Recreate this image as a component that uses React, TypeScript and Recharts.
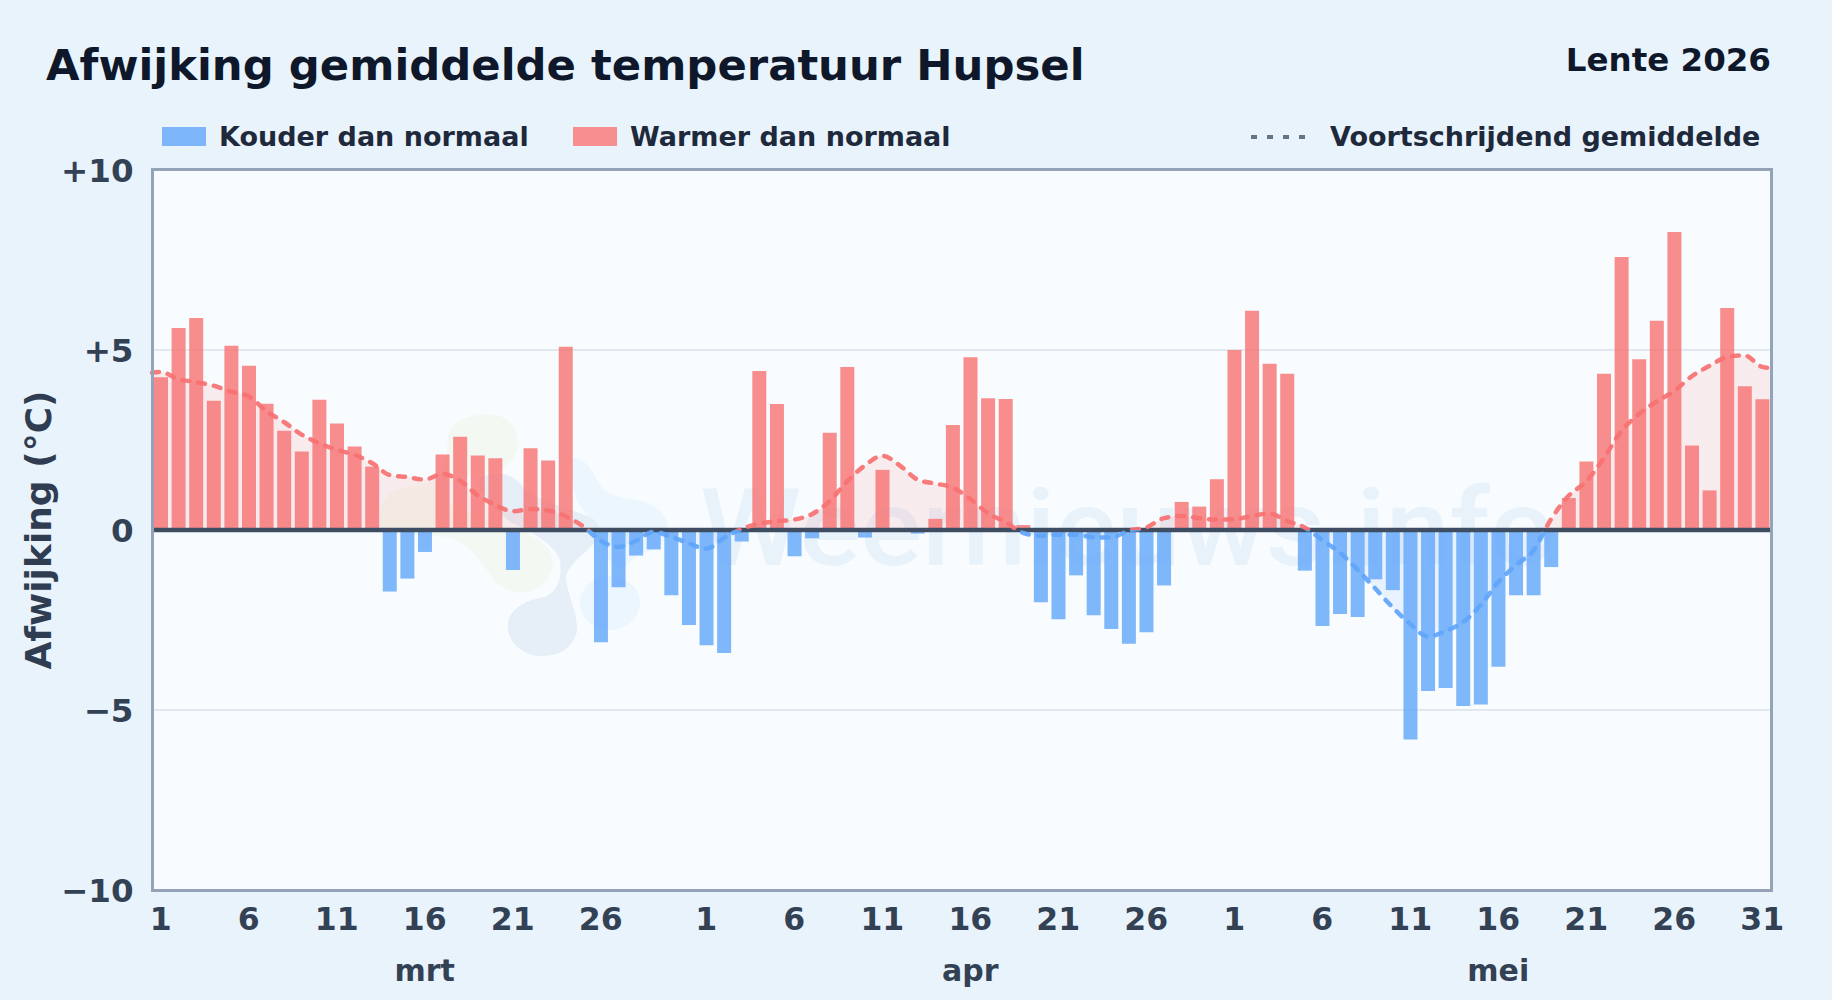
import {
  ComposedChart,
  Bar,
  Line,
  Area,
  XAxis,
  YAxis,
  CartesianGrid,
  ReferenceLine,
  Legend,
} from "recharts";

// dagelijkse afwijking, 1 maart t/m 31 mei
const deviations = [
  4.24, 5.61, 5.89, 3.59, 5.12, 4.56, 3.51, 2.76, 2.18, 3.62, 2.96, 2.32, 1.76, -1.71, -1.35, -0.61,
  2.1, 2.59, 2.07, 1.99, -1.11, 2.27, 1.93, 5.09, 0, -3.12, -1.59, -0.71, -0.54, -1.81, -2.64,
  -3.2, -3.42, -0.32, 4.42, 3.5, -0.73, -0.23, 2.7, 4.53, -0.21, 1.67, 0, -0.1, 0.31, 2.92, 4.8,
  3.66, 3.64, 0.14, -2.01, -2.48, -1.26, -2.37, -2.75, -3.16, -2.84, -1.54, 0.78, 0.65, 1.41,
  5.0, 6.09, 4.62, 4.34, -1.13, -2.67, -2.33, -2.42, -1.37, -1.67, -5.82, -4.47, -4.39, -4.89, -4.85, -3.8,
  -1.81, -1.81, -1.03, 0.89, 1.9, 4.34, 7.58, 4.74, 5.81, 8.28, 2.35, 1.1, 6.17, 3.99, 3.63,
];

// voortschrijdend gemiddelde
const movingAvg = [
  4.39, 4.19, 4.11, 4.01, 3.84, 3.71, 3.3, 3.0, 2.65, 2.41, 2.23, 2.09, 1.86, 1.53, 1.47, 1.4,
  1.56, 1.37, 0.97, 0.7, 0.52, 0.58, 0.54, 0.38, 0.1, -0.3, -0.47, -0.3, -0.05, -0.19, -0.37,
  -0.52, -0.22, 0.03, 0.18, 0.24, 0.29, 0.44, 0.8, 1.35, 1.79, 2.06, 1.79, 1.4, 1.29, 1.18, 0.86,
  0.47, 0.22, -0.08, -0.16, -0.13, -0.13, -0.2, -0.21, -0.02, 0.07, 0.33, 0.39, 0.33, 0.29,
  0.3, 0.39, 0.46, 0.25, 0.07, -0.28, -0.63, -1.1, -1.62, -2.15, -2.61, -2.96, -2.81, -2.56, -2.09, -1.45,
  -0.98, -0.57, 0.3, 0.95, 1.35, 2.0, 2.75, 3.22, 3.57, 3.86, 4.27, 4.56, 4.8, 4.85, 4.53,
];

const maAtLeftEdge = 4.37;
const maAtRightEdge = 4.5;

const dayTicks = [
  0.5, 5.5, 10.5, 15.5, 20.5, 25.5, 31.5, 36.5, 41.5, 46.5, 51.5, 56.5, 61.5, 66.5, 71.5, 76.5, 81.5, 86.5, 91.5,
];
const dayLabels = ["1", "6", "11", "16", "21", "26", "1", "6", "11", "16", "21", "26", "1", "6", "11", "16", "21", "26", "31"];
const monthTicks = [15.5, 46.5, 76.5];
const monthLabels = ["mrt", "apr", "mei"];
const yTicks = [-10, -5, 0, 5, 10];

const barRows = deviations.map((v, i) => ({
  x: i + 0.5,
  warm: v > 0 ? v : null,
  cold: v < 0 ? v : null,
}));

// de lijn loopt door tot aan de randen van het vlak
const maRows = [
  { x: 0, ma: maAtLeftEdge },
  ...movingAvg.map((v, i) => ({ x: i + 0.5, ma: v })),
  { x: 92, ma: maAtRightEdge },
];

const FONT = "'DejaVu Sans', sans-serif";

function formatY(v: number) {
  if (v > 0) return "+" + v;
  if (v < 0) return "\u2212" + Math.abs(v);
  return "0";
}

function ChartLegend() {
  const textStyle: React.CSSProperties = {
    position: "absolute",
    top: 119,
    fontSize: 27,
    fontWeight: 700,
    color: "#1e293b",
    whiteSpace: "nowrap",
    lineHeight: "36px",
  };
  return (
    <div style={{ fontFamily: FONT }}>
      <div style={{ position: "absolute", left: 162, top: 127, width: 44, height: 19, background: "#7eb6fb" }} />
      <div style={{ ...textStyle, left: 219 }}>Kouder dan normaal</div>
      <div style={{ position: "absolute", left: 573, top: 127, width: 44, height: 19, background: "#f88f8f" }} />
      <div style={{ ...textStyle, left: 630 }}>Warmer dan normaal</div>
      <svg style={{ position: "absolute", left: 1250, top: 130 }} width={60} height={14}>
        <line x1={1} x2={60} y1={7} y2={7} stroke="#64748b" strokeWidth={4} strokeDasharray="6 10" />
      </svg>
      <div style={{ ...textStyle, left: 1330 }}>Voortschrijdend gemiddelde</div>
    </div>
  );
}

// vlak van de grafiek met het watermerk erachter
function PlotBackdrop() {
  return (
    <svg style={{ position: "absolute", left: 0, top: 0 }} width={1832} height={1000}>
      <rect x={152} y={169.5} width={1619} height={720.5} fill="#f8fcff" />
      <path
        d="M448 440 C446 420 478 410 500 416 C522 424 522 452 510 463 C490 478 430 478 396 490 C376 498 378 530 384 532 L440 536 C468 540 480 560 494 580 C510 598 545 598 552 568 C558 545 530 532 500 525 L440 500 Z"
        fill="#f3f9f2"
      />
      <path
        d="M573 458 C585 458 592 470 597 480 C605 497 620 497 637 500 C655 503 668 515 668 530 C668 545 650 552 640 553 L620 570 C600 560 605 540 590 518 C585 510 570 505 573 458 Z"
        fill="#ecf6fe"
      />
      <ellipse cx={610} cy={603} rx={30} ry={27} fill="#ecf6fe" />
      <path
        d="M508 628 C506 610 525 600 545 597 C560 590 562 575 560 560 C555 545 530 530 510 522 C490 505 475 490 480 478 C495 470 515 472 525 490 C540 500 565 508 585 515 C595 518 600 525 600 532 C595 550 575 555 566 575 C565 590 578 610 577 632 C570 655 550 656 540 656 C520 655 508 640 508 628 Z"
        fill="#e6eff8"
      />
      <text
        x={700}
        y={565}
        fill="#e8f2fb"
        fontFamily="Roboto, sans-serif"
        fontWeight={500}
        fontSize={107}
        textLength={855}
        lengthAdjust="spacingAndGlyphs"
      >
        Weernieuws.info
      </text>
    </svg>
  );
}

export default function App() {
  return (
    <div
      style={{
        position: "absolute",
        left: 0,
        top: 0,
        width: 1832,
        height: 1000,
        background: "#e9f3fc",
        overflow: "hidden",
        fontFamily: FONT,
      }}
    >
      <PlotBackdrop />
      <div style={{ position: "absolute", left: 46, top: 40, fontSize: 43.35, fontWeight: 700, color: "#0f172a", whiteSpace: "nowrap" }}>
        Afwijking gemiddelde temperatuur Hupsel
      </div>
      <div style={{ position: "absolute", right: 61, top: 41, fontSize: 32.5, fontWeight: 700, color: "#0f172a", whiteSpace: "nowrap" }}>
        Lente 2026
      </div>
      <div style={{ position: "absolute", left: 0, top: 0 }}>
        <ComposedChart
          width={1832}
          height={1000}
          data={barRows}
          margin={{ top: 170, right: 61, bottom: 6, left: 22 }}
          style={{ fontFamily: FONT }}
        >
          <defs>
            <linearGradient id="splitStroke" gradientUnits="userSpaceOnUse" x1={0} x2={0} y1={170} y2={890}>
              <stop offset="50%" stopColor="#f87171" />
              <stop offset="50%" stopColor="#60a5fa" />
            </linearGradient>
            <linearGradient id="splitFill" gradientUnits="userSpaceOnUse" x1={0} x2={0} y1={170} y2={890}>
              <stop offset="50%" stopColor="#f87171" stopOpacity={0.2} />
              <stop offset="50%" stopColor="#60a5fa" stopOpacity={0.18} />
            </linearGradient>
          </defs>
          <CartesianGrid vertical={false} stroke="#e2e8f0" strokeWidth={2} horizontalValues={[-5, 5]} />
          <XAxis
            dataKey="x"
            type="number"
            domain={[0, 92]}
            ticks={dayTicks}
            interval={0}
            tickFormatter={(t: number) => dayLabels[dayTicks.indexOf(t)]}
            tick={{ fontSize: 31.5, fontWeight: 700, fill: "#334155" }}
            tickLine={false}
            axisLine={false}
            tickMargin={12}
            height={62}
          />
          <XAxis
            xAxisId="months"
            dataKey="x"
            type="number"
            domain={[0, 92]}
            ticks={monthTicks}
            interval={0}
            tickFormatter={(t: number) => monthLabels[monthTicks.indexOf(t)]}
            tick={{ fontSize: 30, fontWeight: 700, fill: "#334155" }}
            tickLine={false}
            axisLine={false}
            height={42}
          />
          <XAxis xAxisId="ma" dataKey="x" type="number" domain={[0, 92]} orientation="top" hide />
          <YAxis
            domain={[-10, 10]}
            ticks={yTicks}
            interval={0}
            tickFormatter={formatY}
            tick={{ fontSize: 32.5, fontWeight: 700, fill: "#334155" }}
            tickLine={false}
            axisLine={false}
            tickMargin={12.5}
            width={130}
            label={{
              value: "Afwijking (\u00b0C)",
              angle: -90,
              position: "insideLeft",
              offset: 16,
              style: { fontSize: 36, fontWeight: 700, fill: "#2f3c52", textAnchor: "middle" },
            }}
          />
          <Area
            xAxisId="ma"
            data={maRows}
            dataKey="ma"
            type="monotone"
            fill="url(#splitFill)"
            stroke="none"
            isAnimationActive={false}
            dot={false}
            activeDot={false}
          />
          <Bar dataKey="warm" stackId="d" barSize={14} fill="#f87171" fillOpacity={0.8} isAnimationActive={false} />
          <Bar dataKey="cold" stackId="d" barSize={14} fill="#60a5fa" fillOpacity={0.8} isAnimationActive={false} />
          <ReferenceLine y={0} stroke="#3f4d63" strokeWidth={4.5} />
          <Line
            xAxisId="ma"
            data={maRows}
            dataKey="ma"
            type="monotone"
            stroke="url(#splitStroke)"
            strokeWidth={4.5}
            strokeDasharray="7 9"
            strokeLinecap="round"
            strokeOpacity={0.92}
            dot={false}
            activeDot={false}
            isAnimationActive={false}
          />
          <Legend content={() => <ChartLegend />} wrapperStyle={{ position: "static" }} />
        </ComposedChart>
      </div>
      <div
        style={{
          position: "absolute",
          left: 150.5,
          top: 168,
          width: 1622,
          height: 723.5,
          boxSizing: "border-box",
          border: "3px solid #94a3b8",
          pointerEvents: "none",
        }}
      />
    </div>
  );
}
